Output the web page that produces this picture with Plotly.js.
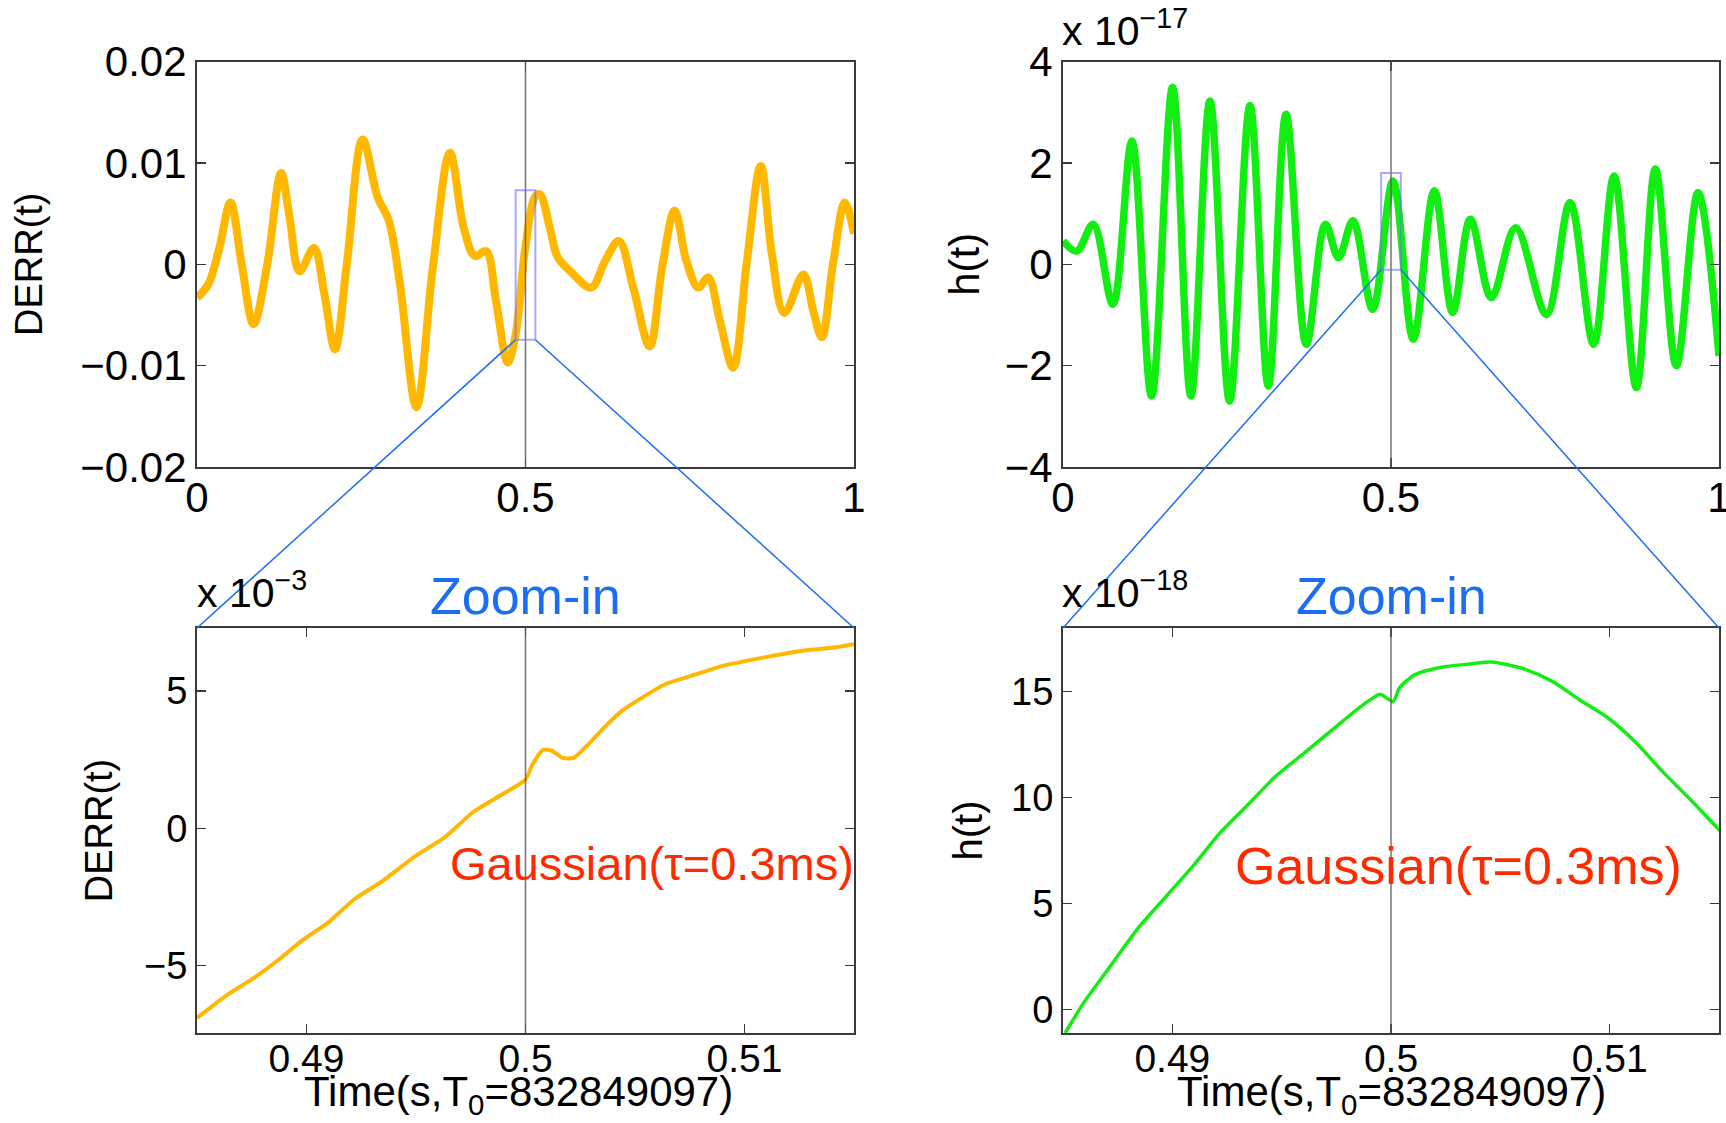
<!DOCTYPE html>
<html>
<head>
<meta charset="utf-8">
<script src="https://cdn.plot.ly/plotly-3.0.1.min.js"></script>
<style>html,body{margin:0;padding:0;background:#fff;}#chart{width:1726px;height:1123px;}</style>
</head>
<body>
<div id="chart"></div>
<script>
// ---------- DATA ----------
// Top-left: DERR(t) over the full 1 s window
const derrT = [0, 0.017, 0.034, 0.051, 0.068, 0.086, 0.107, 0.128, 0.141, 0.156, 0.178, 0.194, 0.21, 0.228, 0.252, 0.275, 0.292, 0.309, 0.334, 0.359, 0.385, 0.406, 0.423, 0.44, 0.455, 0.473, 0.485, 0.5, 0.515, 0.522, 0.537, 0.549, 0.57, 0.6, 0.621, 0.642, 0.664, 0.689, 0.708, 0.727, 0.745, 0.763, 0.778, 0.796, 0.816, 0.837, 0.858, 0.875, 0.894, 0.923, 0.938, 0.951, 0.968, 0.986, 1.0];
const derrV = [-0.0033, -0.002, 0.0016, 0.0061, 0.0, -0.0059, 0.0, 0.009, 0.0046, -0.0007, 0.0016, -0.003, -0.0084, 0.0, 0.0123, 0.0066, 0.0043, -0.002, -0.0141, -0.0003, 0.011, 0.0036, 0.0008, 0.0013, -0.0036, -0.0097, -0.0069, 0.0018, 0.0067, 0.0069, 0.0036, 0.0007, -0.0008, -0.0023, 0.0003, 0.0023, -0.0023, -0.0081, -0.0003, 0.0053, 0.0003, -0.0023, -0.0013, -0.0056, -0.0102, 0.0003, 0.0097, 0.001, -0.0048, -0.001, -0.0046, -0.0072, 0.0, 0.0061, 0.003];

// Top-right: h(t) over the full 1 s window (units of 1e-17)
const hT = [0, 0.021, 0.046, 0.076, 0.105, 0.135, 0.167, 0.195, 0.224, 0.254, 0.285, 0.313, 0.34, 0.371, 0.4, 0.42, 0.442, 0.472, 0.503, 0.534, 0.566, 0.594, 0.621, 0.653, 0.69, 0.737, 0.773, 0.809, 0.84, 0.874, 0.903, 0.935, 0.968, 1.0];
const hV = [0.46, 0.26, 0.79, -0.79, 2.43, -2.6, 3.49, -2.6, 3.22, -2.7, 3.13, -2.4, 2.96, -1.58, 0.79, 0.13, 0.86, -0.89, 1.64, -1.48, 1.45, -0.95, 0.89, -0.66, 0.72, -0.99, 1.22, -1.58, 1.74, -2.43, 1.88, -2.0, 1.41, -1.81];

// Bottom-left: DERR(t) zoom-in (units of 1e-3)
const derrZoomT = [0.485, 0.4864, 0.4875, 0.4887, 0.4898, 0.491, 0.4922, 0.4935, 0.495, 0.4963, 0.4976, 0.4988, 0.5, 0.5003, 0.5008, 0.5012, 0.5017, 0.5022, 0.5029, 0.5036, 0.5044, 0.5054, 0.5064, 0.5077, 0.509, 0.5102, 0.5115, 0.5128, 0.514, 0.515];
const derrZoomV = [-6.9, -6.05, -5.5, -4.8, -4.08, -3.42, -2.57, -1.9, -0.99, -0.33, 0.59, 1.18, 1.78, 2.3, 2.86, 2.83, 2.57, 2.57, 3.09, 3.68, 4.28, 4.8, 5.26, 5.59, 5.92, 6.12, 6.32, 6.49, 6.58, 6.71];

// Bottom-right: h(t) zoom-in (units of 1e-18)
const hZoomT = [0.4851, 0.4859, 0.4872, 0.4884, 0.4897, 0.491, 0.4922, 0.4935, 0.4947, 0.496, 0.4973, 0.4985, 0.4995, 0.4998, 0.5001, 0.5004, 0.5011, 0.5023, 0.5036, 0.5046, 0.5061, 0.5074, 0.5086, 0.5099, 0.5112, 0.5124, 0.5137, 0.5151];
const hZoomV = [-1.1, 0.25, 2.1, 3.8, 5.32, 6.84, 8.36, 9.71, 10.98, 12.08, 13.18, 14.2, 14.87, 14.7, 14.53, 15.2, 15.8, 16.15, 16.3, 16.4, 16.06, 15.47, 14.63, 13.78, 12.6, 11.25, 9.9, 8.38];

// Axis ranges / ticks
const fullRangeX = [0, 1];
const fullTicksX = [0, 0.5, 1];
const derrRange = [-0.02, 0.02];
const derrTicks = [-0.02, -0.01, 0, 0.01, 0.02];
const hRange = [-4, 4];
const hTicks = [-4, -2, 0, 2, 4];
const zoomRangeX = [0.485, 0.515];
const zoomTicksX = [0.49, 0.5, 0.51];
const derrZoomRange = [-7.45, 7.3];
const derrZoomTicks = [-5, 0, 5];
const hZoomRange = [-1.1, 18];
const hZoomTicks = [0, 5, 10, 15];
const markerT = 0.5;

// Texts
const derrLabel = "DERR(t)";
const hLabel = "h(t)";
const timeLabel = "Time(s,T<sub>0</sub>=832849097)";
const zoomTitle = "Zoom-in";
const gaussText = "Gaussian(τ=0.3ms)";
const hMult = "x 10<sup>−17</sup>";
const derrZoomMult = "x 10<sup>−3</sup>";
const hZoomMult = "x 10<sup>−18</sup>";

// ---------- LAYOUT ----------
const W = 1726, H = 1123;
const FONT = "Liberation Sans, Arial, Helvetica, sans-serif";
const ORANGE = "#ffb700", GREEN = "#12ee12", BLUE = "#1a6ef5", RED = "#ff2a00";
const colL = [197 / W, 854 / W], colR = [1063 / W, 1719 / W];
const rowTop = [1 - 467 / H, 1 - 61.5 / H], rowBot = [1 - 1033 / H, 1 - 628 / H];

function axisBase(extra) {
  return Object.assign({
    showline: true, linecolor: "#3a3a3a", linewidth: 2, mirror: "ticks",
    ticks: "inside", ticklen: 9, tickwidth: 1.5, tickcolor: "#3a3a3a",
    showgrid: false, zeroline: false, fixedrange: true,
    tickfont: { family: FONT, size: 40, color: "#000" }
  }, extra);
}

const traces = [
  { x: derrT, y: derrV, xaxis: "x", yaxis: "y", type: "scatter", mode: "lines",
    line: { color: ORANGE, width: 8, shape: "spline", smoothing: 1 } },
  { x: hT, y: hV, xaxis: "x2", yaxis: "y2", type: "scatter", mode: "lines",
    line: { color: GREEN, width: 7.5, shape: "spline", smoothing: 1 } },
  { x: derrZoomT, y: derrZoomV, xaxis: "x3", yaxis: "y3", type: "scatter", mode: "lines",
    line: { color: ORANGE, width: 4, shape: "spline", smoothing: 0.6 } },
  { x: hZoomT, y: hZoomV, xaxis: "x4", yaxis: "y4", type: "scatter", mode: "lines",
    line: { color: GREEN, width: 3.5, shape: "spline", smoothing: 0.7 } }
];

function toPaper(v, dom, rng) {
  return dom[0] + (v - rng[0]) / (rng[1] - rng[0]) * (dom[1] - dom[0]);
}

// zoom rectangles on the top panels (in the top panels' units)
const rectL = { x0: zoomRangeX[0], x1: zoomRangeX[1], y0: derrZoomRange[0] * 1e-3, y1: derrZoomRange[1] * 1e-3 };
const rectR = { x0: zoomRangeX[0], x1: zoomRangeX[1], y0: hZoomRange[0] * 0.1, y1: hZoomRange[1] * 0.1 };

const shapes = [];
[["x", "y"], ["x2", "y2"], ["x3", "y3"], ["x4", "y4"]].forEach(function (a) {
  shapes.push({ type: "line", xref: a[0], yref: a[1] + " domain", x0: markerT, x1: markerT, y0: 0, y1: 1,
    line: { color: "rgba(90,90,90,0.85)", width: 1.5 }, layer: "above" });
});
shapes.push(Object.assign({ type: "rect", xref: "x", yref: "y", line: { color: "rgba(110,110,255,0.6)", width: 2 }, layer: "above" }, rectL));
shapes.push(Object.assign({ type: "rect", xref: "x2", yref: "y2", line: { color: "rgba(110,110,255,0.6)", width: 2 }, layer: "above" }, rectR));

// connecting lines from the rectangles to the zoom-in panels
function connector(rect, colDom, xRng, yRng, botCol) {
  const by = toPaper(rect.y0, rowTop, yRng);
  const lx = toPaper(rect.x0, colDom, xRng), rx = toPaper(rect.x1, colDom, xRng);
  return [
    { type: "line", xref: "paper", yref: "paper", x0: lx, y0: by, x1: botCol[0], y1: rowBot[1], line: { color: BLUE, width: 1.5 } },
    { type: "line", xref: "paper", yref: "paper", x0: rx, y0: by, x1: botCol[1], y1: rowBot[1], line: { color: BLUE, width: 1.5 } }
  ];
}
connector(rectL, colL, fullRangeX, derrRange, colL).forEach(s => shapes.push(s));
connector(rectR, colR, fullRangeX, hRange, colR).forEach(s => shapes.push(s));

const multFont = { family: FONT, size: 41, color: "#000" };
const annotations = [
  // multipliers
  { text: hMult, xref: "paper", yref: "paper", x: 1060 / W, y: 1 - 56 / H, xanchor: "left", yanchor: "bottom", showarrow: false, font: multFont },
  { text: derrZoomMult, xref: "paper", yref: "paper", x: 195 / W, y: 1 - 618 / H, xanchor: "left", yanchor: "bottom", showarrow: false, font: multFont },
  { text: hZoomMult, xref: "paper", yref: "paper", x: 1060 / W, y: 1 - 618 / H, xanchor: "left", yanchor: "bottom", showarrow: false, font: multFont },
  // Zoom-in titles
  { text: zoomTitle, xref: "x3", yref: "paper", x: markerT, y: 1 - 596 / H, xanchor: "center", yanchor: "middle", showarrow: false, font: { family: FONT, size: 52, color: BLUE } },
  { text: zoomTitle, xref: "x4", yref: "paper", x: markerT, y: 1 - 596 / H, xanchor: "center", yanchor: "middle", showarrow: false, font: { family: FONT, size: 52, color: BLUE } },
  // Gaussian labels
  { text: gaussText, xref: "paper", yref: "paper", x: 856 / W, y: 1 - 863 / H, xanchor: "right", yanchor: "middle", showarrow: false, font: { family: FONT, size: 47, color: RED } },
  { text: gaussText, xref: "paper", yref: "paper", x: 1684 / W, y: 1 - 866 / H, xanchor: "right", yanchor: "middle", showarrow: false, font: { family: FONT, size: 52, color: RED } },
  // x-axis titles of the zoom-in panels
  { text: timeLabel, xref: "x3 domain", yref: "paper", x: 0.49, y: 1 - 1094 / H, xanchor: "center", yanchor: "middle", showarrow: false, font: { family: FONT, size: 42, color: "#000" } },
  { text: timeLabel, xref: "x4 domain", yref: "paper", x: 0.5, y: 1 - 1094 / H, xanchor: "center", yanchor: "middle", showarrow: false, font: { family: FONT, size: 42, color: "#000" } }
];

const yTitleFont = { family: FONT, size: 38, color: "#000" };
const topXFont = { family: FONT, size: 42, color: "#000" };
const botXFont = { family: FONT, size: 39, color: "#000" };

const layout = {
  width: W, height: H,
  margin: { l: 0, r: 0, t: 0, b: 0 },
  paper_bgcolor: "#fff", plot_bgcolor: "#fff",
  showlegend: false,
  font: { family: FONT, color: "#000" },
  xaxis: axisBase({ domain: colL, anchor: "y", range: fullRangeX, tickvals: fullTicksX, tickfont: topXFont, ticklabelstandoff: -7, ticklabeloverflow: "allow" }),
  yaxis: axisBase({ domain: rowTop, anchor: "x", range: derrRange, tickvals: derrTicks, tickfont: { family: FONT, size: 42, color: "#000" },
    title: { text: derrLabel, font: yTitleFont, standoff: 26 } }),
  xaxis2: axisBase({ domain: colR, anchor: "y2", range: fullRangeX, tickvals: fullTicksX, tickfont: topXFont, ticklabelstandoff: -7, ticklabeloverflow: "allow" }),
  yaxis2: axisBase({ domain: rowTop, anchor: "x2", range: hRange, tickvals: hTicks, tickfont: { family: FONT, size: 42, color: "#000" },
    title: { text: hLabel, font: { family: FONT, size: 42, color: "#000" }, standoff: 12 } }),
  xaxis3: axisBase({ domain: colL, anchor: "y3", range: zoomRangeX, tickvals: zoomTicksX, tickfont: botXFont, ticklabelstandoff: -10 }),
  yaxis3: axisBase({ domain: rowBot, anchor: "x3", range: derrZoomRange, tickvals: derrZoomTicks, tickfont: { family: FONT, size: 38, color: "#000" },
    title: { text: derrLabel, font: yTitleFont, standoff: 20 } }),
  xaxis4: axisBase({ domain: colR, anchor: "y4", range: zoomRangeX, tickvals: zoomTicksX, tickfont: botXFont, ticklabelstandoff: -10 }),
  yaxis4: axisBase({ domain: rowBot, anchor: "x4", range: hZoomRange, tickvals: hZoomTicks, tickfont: { family: FONT, size: 38, color: "#000" },
    title: { text: hLabel, font: { family: FONT, size: 40, color: "#000" }, standoff: 16 } }),
  shapes: shapes,
  annotations: annotations
};

Plotly.newPlot("chart", traces, layout, { displayModeBar: false, staticPlot: true });
</script>
</body>
</html>
